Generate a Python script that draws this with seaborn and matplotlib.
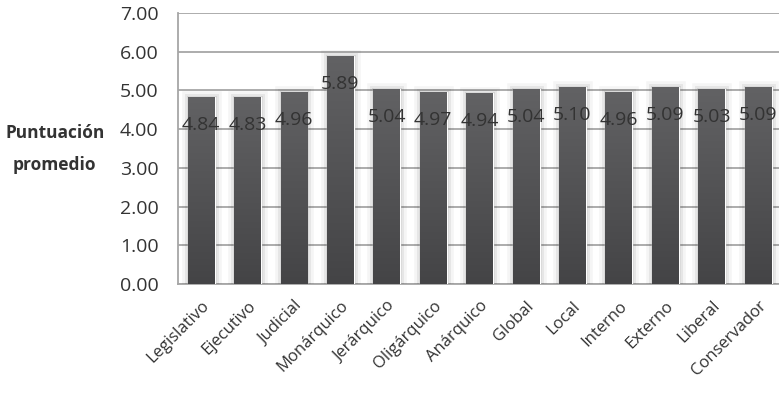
import matplotlib
matplotlib.use("Agg")
import matplotlib.pyplot as plt
import matplotlib.patheffects as pe
import seaborn as sns
import numpy as np
import pandas as pd

# Puntuación promedio por tipo de organización
categorias = ["Legislativo", "Ejecutivo", "Judicial", "Monárquico", "Jerárquico",
              "Oligárquico", "Anárquico", "Global", "Local", "Interno",
              "Externo", "Liberal", "Conservador"]
valores = [4.84, 4.83, 4.96, 5.89, 5.04, 4.97, 4.94, 5.04, 5.10, 4.96, 5.09, 5.03, 5.09]
ticks_y = [0, 1, 2, 3, 4, 5, 6, 7]

df = pd.DataFrame({"categoria": categorias, "valor": valores})

sns.set_theme(style="white")
plt.rcParams["font.family"] = ["Open Sans", "DejaVu Sans"]

fig = plt.figure(figsize=(7.79, 3.94), dpi=100)
ax = fig.add_axes([178 / 779, 110 / 394, 1 - 178 / 779, 271 / 394])

grid_c = "#a6a6a6"
bar_c = "#505052"
text_c = "#333333"

sns.barplot(data=df, x="categoria", y="valor", color=bar_c, saturation=1,
            width=0.58, ax=ax, zorder=3)

ax.set_xlim(-0.5, 12.45)
ax.set_ylim(0, 7)

# soft glow around bars and a top-to-bottom shading inside them
grad = np.linspace(0, 1, 256).reshape(-1, 1)
cmap = matplotlib.colors.LinearSegmentedColormap.from_list("barshade", ["#444446", "#626264"])
for p in ax.patches:
    p.set_path_effects([
        pe.Stroke(linewidth=9, foreground="#000000", alpha=0.04),
        pe.Stroke(linewidth=5, foreground="#000000", alpha=0.06),
        pe.Stroke(linewidth=2, foreground="#000000", alpha=0.10),
        pe.Normal(),
    ])
    x0 = p.get_x()
    w, h = p.get_width(), p.get_height()
    im = ax.imshow(grad, extent=(x0, x0 + w, 0, h), origin="lower", cmap=cmap,
                   aspect="auto", zorder=3.5, vmin=0, vmax=1)
    im.set_clip_path(p)
ax.set_xlim(-0.5, 12.45)
ax.set_ylim(0, 7)

ax.set_yticks(ticks_y)
ax.set_yticklabels([f"{t:.2f}" for t in ticks_y], fontsize=14, color=text_c)
ax.yaxis.grid(True, color=grid_c, linewidth=1.3, zorder=0)
ax.set_axisbelow(True)
ax.tick_params(axis="y", length=0, pad=14)
ax.tick_params(axis="x", length=0, pad=10)

ax.set_xticks(range(len(categorias)))
ax.set_xticklabels(categorias, rotation=45, ha="right", rotation_mode="anchor",
                   fontsize=12, color=text_c)

for s in ["top", "right"]:
    ax.spines[s].set_visible(False)
for s in ["left", "bottom"]:
    ax.spines[s].set_color(grid_c)
    ax.spines[s].set_linewidth(1.3)

# value labels, placed just below each bar's top
for i, v in enumerate(valores):
    ax.annotate(f"{v:.2f}", xy=(i, v), xytext=(0, -28), textcoords="offset pixels",
                ha="center", va="center", fontsize=14, color=text_c, zorder=5)

ax.set_xlabel("")
ax.set_ylabel("Puntuación\npromedio", rotation=0, fontsize=12.5, fontweight="bold",
              color=text_c, ha="center", va="center", linespacing=2.0)
ax.yaxis.set_label_coords(-0.205, 0.50)

fig.savefig("out.png", dpi=100)
